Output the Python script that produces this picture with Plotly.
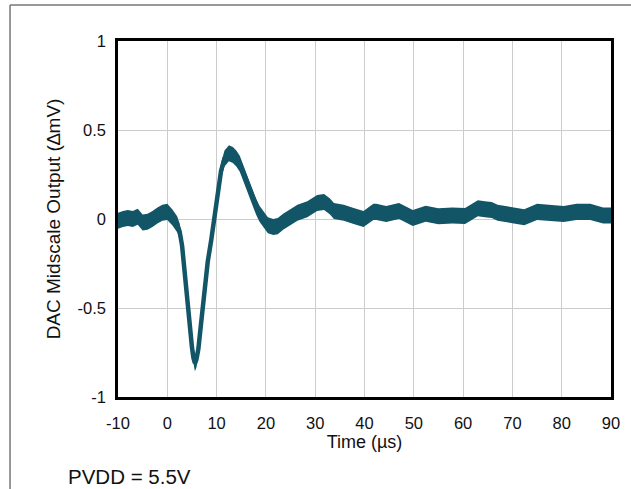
import plotly.graph_objects as go

# Time (µs) and DAC midscale output (ΔmV) (band centre)
time_us = [-10, -9, -8, -7, -6, -5, -4, -3, -2, -1, 0, 1, 2, 2.5, 3, 3.5, 4, 4.5, 5, 5.3,
           5.6, 5.9, 6.3, 6.8, 7.2, 7.7, 8.2, 8.9, 9.5, 10.3, 10.9, 11.6, 12.5, 13.3, 14,
           14.7, 15.4, 16.3, 17.2, 18, 18.7, 19.5, 20.4, 21.5, 22.4, 23.5, 24.4, 25.5,
           26.4, 28.4, 30.4, 31.8, 33, 33.8, 35.8, 37.8, 39.8, 41.8, 42.4, 44.4, 47, 49.8,
           52.4, 55, 57.8, 60.4, 63, 64.4, 65.8, 67, 69.8, 72.4, 75, 77.8, 80.4, 83, 85.8,
           88.4, 90]
output_mv = [-0.01, 0.0, 0.005, 0.0, 0.012, -0.02, -0.015, 0.0, 0.02, 0.035, 0.04, 0.01,
             -0.03, -0.07, -0.15, -0.3, -0.47, -0.6, -0.72, -0.78, -0.81, -0.79, -0.73,
             -0.6, -0.5, -0.36, -0.24, -0.12, 0.0, 0.16, 0.27, 0.34, 0.37, 0.36, 0.34,
             0.31, 0.26, 0.19, 0.12, 0.07, 0.03, 0.0, -0.035, -0.045, -0.04, -0.015, 0.0,
             0.02, 0.035, 0.055, 0.09, 0.095, 0.07, 0.045, 0.035, 0.017, 0.0, 0.04, 0.04,
             0.028, 0.045, 0.005, 0.03, 0.015, 0.02, 0.017, 0.06, 0.055, 0.05, 0.035, 0.02,
             0.01, 0.04, 0.035, 0.028, 0.04, 0.04, 0.02, 0.02]
# peak-to-peak noise thickness of the trace at each point (ΔmV)
noise_pp = [0.09] * len(time_us)

x_ticks = [-10, 0, 10, 20, 30, 40, 50, 60, 70, 80, 90]
x_tick_text = ["-10", "0", "10", "20", "30", "40", "50", "60", "70", "80", "90"]
y_ticks = [-1, -0.5, 0, 0.5, 1]
y_tick_text = ["-1", "-0.5", "0", "0.5", "1"]

color = "#125567"
upper = [v + n / 2 for v, n in zip(output_mv, noise_pp)]
lower = [v - n / 2 for v, n in zip(output_mv, noise_pp)]

fig = go.Figure()
fig.add_trace(go.Scatter(x=time_us, y=upper, mode="lines", line=dict(width=0, color=color),
                         hoverinfo="skip", showlegend=False))
fig.add_trace(go.Scatter(x=time_us, y=lower, mode="lines", line=dict(width=0, color=color),
                         fill="tonexty", fillcolor=color, hoverinfo="skip", showlegend=False))
fig.add_trace(go.Scatter(x=time_us, y=output_mv, mode="lines",
                         line=dict(width=4.5, color=color), showlegend=False))

font = "Liberation Sans, Arial, sans-serif"
fig.update_layout(
    width=631, height=489,
    margin=dict(l=118, r=11, t=41, b=92),
    paper_bgcolor="white", plot_bgcolor="white",
    font=dict(family=font, color="#111111", size=16),
    xaxis=dict(range=[-10, 90], tickvals=x_ticks, ticktext=x_tick_text,
               showgrid=True, gridcolor="#cccccc", gridwidth=1, zeroline=False,
               showline=True, linecolor="black", linewidth=2.5, mirror=True,
               ticks="", tickfont=dict(size=16.5), ticklabelstandoff=9,
               title=dict(text="Time (µs)", font=dict(size=18), standoff=2)),
    yaxis=dict(range=[-1, 1], tickvals=y_ticks, ticktext=y_tick_text,
               showgrid=True, gridcolor="#cccccc", gridwidth=1, zeroline=False,
               showline=True, linecolor="black", linewidth=2.5, mirror=True,
               ticks="", tickfont=dict(size=16.5), ticklabelstandoff=6,
               title=dict(text="DAC Midscale Output (∆mV)", font=dict(size=19), standoff=12)),
    annotations=[dict(text="PVDD = 5.5V", xref="paper", yref="paper",
                      x=-0.106, y=-0.222, xanchor="left", yanchor="middle",
                      showarrow=False, font=dict(size=20.5))],
    shapes=[
        dict(type="line", xref="paper", yref="paper", x0=-0.219, x1=1.05, y0=1.101, y1=1.101,
             line=dict(color="#777777", width=1.5)),
        dict(type="line", xref="paper", yref="paper", x0=-0.219, x1=-0.219, y0=1.101, y1=-0.3,
             line=dict(color="#777777", width=1.5)),
    ],
)

fig.write_html("out.html")
